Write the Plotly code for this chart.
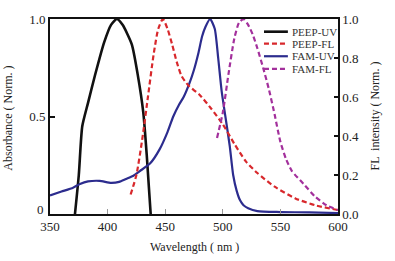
import plotly.graph_objects as go

# PEEP-UV (absorbance, black solid)
peep_uv_x = [371.5, 375, 378, 383, 389, 397, 403, 408, 413, 421, 426, 431, 434, 437.5]
peep_uv_y = [-0.01, 0.2, 0.45, 0.57, 0.71, 0.88, 0.97, 1.0, 0.97, 0.87, 0.72, 0.52, 0.3, -0.01]

# PEEP-FL (fluorescence, red dashed)
peep_fl_x = [420, 425, 430, 435, 440, 444, 448, 452, 456, 460, 464, 470, 480, 490, 500, 510, 520, 530, 545, 563, 580, 600]
peep_fl_y = [0.1, 0.2, 0.38, 0.6, 0.82, 0.95, 1.0, 0.95, 0.87, 0.78, 0.71, 0.66, 0.61, 0.54, 0.46, 0.36, 0.27, 0.21, 0.14, 0.08, 0.045, 0.02]

# FAM-UV (absorbance, navy solid)
fam_uv_x = [350, 360, 370, 376, 383, 393, 403, 410, 416, 422, 428, 437, 445, 452, 457, 462, 466, 471, 475, 479, 482, 485, 489, 493, 496, 499, 502, 506, 509, 512, 515, 518, 522, 530, 550, 575, 600]
fam_uv_y = [0.095, 0.115, 0.135, 0.154, 0.167, 0.17, 0.16, 0.165, 0.18, 0.195, 0.22, 0.26, 0.33, 0.42, 0.5, 0.56, 0.6, 0.67, 0.74, 0.83, 0.91, 0.96, 1.0, 0.95, 0.8, 0.63, 0.51, 0.35, 0.2, 0.12, 0.07, 0.045, 0.03, 0.015, 0.01, 0.008, 0.005]

# FAM-FL (fluorescence, purple dashed)
fam_fl_x = [495, 500, 505, 510, 514, 518, 522, 526, 530, 535, 540, 545, 550, 555, 560, 570, 580, 590, 600]
fam_fl_y = [0.39, 0.52, 0.72, 0.9, 0.98, 1.0, 0.97, 0.92, 0.85, 0.75, 0.64, 0.51, 0.37, 0.28, 0.22, 0.155, 0.09, 0.045, 0.02]

series_names = ["PEEP-UV", "PEEP-FL", "FAM-UV", "FAM-FL"]

x_ticks = [350, 400, 450, 500, 550, 600]
left_ticks = [0.5, 1.0]
left_text = ["0.5", "1.0"]
left_zero_text = "0"
right_ticks = [0, 0.2, 0.4, 0.6, 0.8, 1.0]
right_text = ["0.0", "0.2", "0.4", "0.6", "0.8", "1.0"]

FONT = "Liberation Serif"
BLACK = "#111111"
RED = "#d8282c"
NAVY = "#2c2c8e"
PURPLE = "#a3309c"

styles = [
    dict(color=BLACK, width=2.6),
    dict(color=RED, width=2.2, dash="5px,3px"),
    dict(color=NAVY, width=2.2),
    dict(color=PURPLE, width=2.2, dash="5px,3px"),
]
data = [(peep_uv_x, peep_uv_y, "y"), (peep_fl_x, peep_fl_y, "y2"),
        (fam_uv_x, fam_uv_y, "y"), (fam_fl_x, fam_fl_y, "y2")]

fig = go.Figure()
for (xs, ys, ax), name, st in zip(data, series_names, styles):
    fig.add_trace(go.Scatter(x=xs, y=ys, mode="lines", name=name, yaxis=ax,
                             showlegend=False,
                             line=dict(shape="spline", smoothing=0.6, **st)))

# Compact legend drawn in paper coordinates (row spacing as in the reference)
legend_rows = [0.935, 0.874, 0.809, 0.744]
shapes = []
annotations = []
for name, st, yr in zip(series_names, styles, legend_rows):
    shapes.append(dict(type="line", xref="paper", yref="paper", x0=0.743, x1=0.826,
                       y0=yr, y1=yr, line=st))
    annotations.append(dict(text=name, xref="paper", yref="paper", x=0.832, y=yr,
                            xanchor="left", yanchor="middle", showarrow=False,
                            font=dict(family=FONT, size=11, color="#333333")))

annotations += [
    dict(text="Wavelength ( nm )", xref="paper", yref="paper", x=0.5, y=-0.17,
         xanchor="center", yanchor="middle", showarrow=False,
         font=dict(family=FONT, size=12)),
    dict(text="Absorbance ( Norm. )", xref="paper", yref="paper", x=-0.145, y=0.49,
         xanchor="center", yanchor="middle", showarrow=False, textangle=-90,
         font=dict(family=FONT, size=12)),
    dict(text="FL  intensity ( Norm. )", xref="paper", yref="paper", x=1.125, y=0.5,
         xanchor="center", yanchor="middle", showarrow=False, textangle=-90,
         font=dict(family=FONT, size=12)),
    dict(text=left_zero_text, xref="paper", yref="y", x=0, y=0, xshift=-4, yshift=5,
         xanchor="right", yanchor="middle", showarrow=False,
         font=dict(family=FONT, size=13)),
]

fig.update_layout(
    width=395, height=261,
    margin=dict(l=50, r=57, t=15, b=47),
    paper_bgcolor="white", plot_bgcolor="white",
    font=dict(family=FONT, size=13, color="#222222"),
    showlegend=False,
    shapes=shapes,
    annotations=annotations,
    xaxis=dict(range=[350, 600], tickvals=x_ticks, ticks="inside", ticklen=5,
               tickcolor="#999999", tickwidth=1, showgrid=False, zeroline=False,
               showline=True, linecolor=BLACK, linewidth=1.5, mirror=True,
               tickfont=dict(family=FONT, size=13)),
    yaxis=dict(range=[0, 1], tickvals=left_ticks, ticktext=left_text, ticks="inside",
               ticklen=5, tickcolor=BLACK, tickwidth=1.5, showgrid=False, zeroline=False,
               showline=True, linecolor=BLACK, linewidth=2,
               tickfont=dict(family=FONT, size=13)),
    yaxis2=dict(range=[0, 1], overlaying="y", side="right", tickvals=right_ticks,
                ticktext=right_text, ticks="inside", ticklen=4, tickcolor=BLACK,
                tickwidth=1.5, showgrid=False, zeroline=False, showline=True,
                linecolor=BLACK, linewidth=1.5, tickfont=dict(family=FONT, size=13)),
)

fig.write_html("out.html", config={"displayModeBar": False},
               post_script="document.body.style.margin='0';document.body.style.overflow='hidden';")
